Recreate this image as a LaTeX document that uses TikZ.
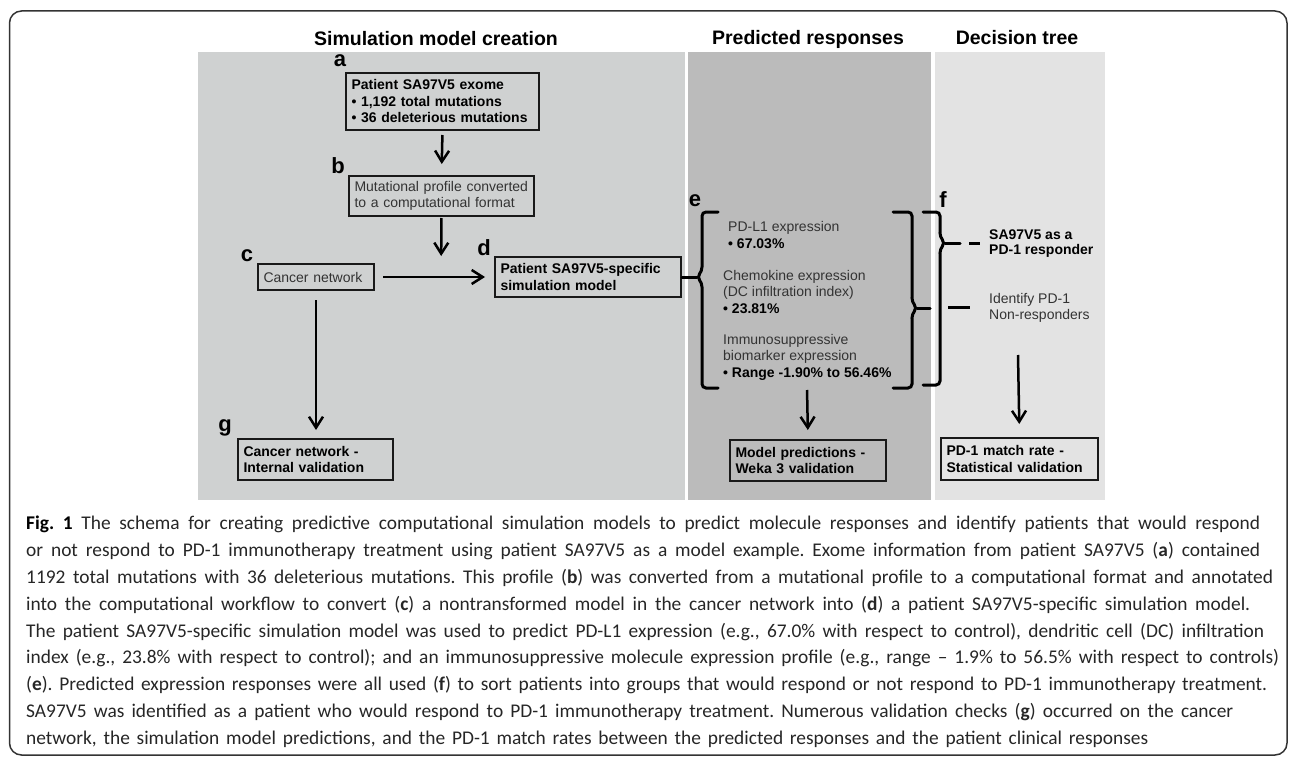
\documentclass[tikz,border=0pt]{standalone}
\usepackage{fontspec}
\usetikzlibrary{arrows.meta}
\newfontfamily\figfont{Liberation Sans}
\newfontfamily\capfont{Carlito}
\definecolor{panelA}{HTML}{CFD1D1}
\definecolor{panelB}{HTML}{BBBBBB}
\definecolor{panelC}{HTML}{E3E3E3}
\definecolor{txtgray}{HTML}{333333}
\newcommand{\capline}[2]{\hbox to #1pt{#2}}

\begin{document}
\begin{tikzpicture}[x=1pt, y=-1pt,
  box/.style={draw=black!90, line width=2pt, anchor=north west, align=left,
    inner xsep=5.5pt, inner ysep=0pt, text=txtgray,
    font=\figfont\fontsize{14}{16.5}\selectfont},
  boldbox/.style={box, text=black, font=\figfont\bfseries\fontsize{14}{16.5}\selectfont},
  plain/.style={anchor=west, align=left, inner sep=0pt, text=txtgray,
    font=\figfont\fontsize{14}{16.5}\selectfont},
  head/.style={font=\figfont\bfseries\fontsize{19.5}{22}\selectfont},
  tag/.style={font=\figfont\bfseries\fontsize{22}{24}\selectfont, inner sep=0pt},
  arr/.style={line width=2.5pt, -{Straight Barb[length=11pt,width=14pt]}},
  brace/.style={line width=3pt, rounded corners=4pt, line cap=round}]
\useasboundingbox (0,0) rectangle (1290,757);
\draw[line width=1.5pt, black!80, rounded corners=12pt] (9.5,11) rectangle (1287,755);

% the three columns
\fill[panelA] (198,52) rectangle (685,500);
\fill[panelB] (688,52) rectangle (931,500);
\fill[panelC] (935,52) rectangle (1105,500);
\node[head] (hsim) at (436,39) {Simulation model creation};
\node[head] (hpred) at (808,39) {Predicted responses};
\node[head] (htree) at (1017,38) {Decision tree};

% simulation model creation
\node[boldbox, text width=182pt, minimum height=57pt] (exome) at (345,72)
  {Patient SA97V5 exome\\ \textbullet{} 1,192 total mutations\\ \textbullet{} 36 deleterious mutations};
\node[box, text width=174pt, minimum height=40pt] (profile) at (348,175)
  {Mutational profile converted\\ to a computational format};
\node[box, text width=105pt, minimum height=26pt] (cancer) at (257,263) {Cancer network};
\node[boldbox, text width=175pt, minimum height=40pt] (model) at (494,256)
  {Patient SA97V5-specific\\ simulation model};
\node[boldbox, text width=144pt, minimum height=41pt] (cval) at (237,438)
  {Cancer network -\\ Internal validation};
\node[tag] (la) at (340,61) {a};
\node[tag] (lb) at (338,166) {b};
\node[tag] (lc) at (247,256) {c};
\node[tag] (ld) at (484,248) {d};
\node[tag] (lg) at (225,428) {g};
\coordinate (merge) at (441,276);
\draw[arr, shorten <=4pt, shorten >=11pt] (exome.south) -- (profile.north);
\draw[arr, shorten <=1pt, shorten >=20pt] (profile.south) -- (merge);
\draw[arr, shorten <=8pt, shorten >=9pt] (cancer.east) -- (model.west);
\draw[arr, shorten <=9pt, shorten >=8pt] (cancer.south) -- (cancer.south |- cval.north);

% predicted responses
\node[tag] (le) at (695,201) {e};
\node[plain] (pdl) at (728,235) {PD-L1 expression\\ \textbf{\color{black}\textbullet{} 67.03\%}};
\node[plain] (chemo) at (723,292) {Chemokine expression\\ (DC infiltration index)\\ \textbf{\color{black}\textbullet{} 23.81\%}};
\node[plain] (immuno) at (723,357) {Immunosuppressive\\ biomarker expression\\ \textbf{\color{black}\textbullet{} Range -1.90\% to 56.46\%}};
\coordinate (ecusp) at (697,277);
\draw[brace] (718,212) -- (702,212) -- (702,271) -- (ecusp) -- (702,283) -- (702,388) -- (718,388);
\draw[brace] (model.east) -- (ecusp);
\draw[brace] (893,212) -- (912,212) -- (912,302) -- (917,308) -- (912,314) -- (912,388) -- (893,388);
\draw[brace] (917,308) -- (930,308);
\node[boldbox, text width=145pt, minimum height=41pt] (weka) at (729,439)
  {Model predictions -\\ Weka 3 validation};
\coordinate (predbot) at (807,388);
\draw[arr, shorten <=2pt, shorten >=9pt] (predbot) -- (weka.north);

% decision tree
\node[tag] (lf) at (943,200) {f};
\node[plain, text=black, font=\figfont\bfseries\fontsize{14}{15.5}\selectfont] (resp) at (989,243.5) {SA97V5 as a\\ PD-1 responder};
\node[plain] (nonresp) at (989,308) {Identify PD-1\\ Non-responders};
\draw[brace] (923,212) -- (940,212) -- (940,237) -- (945,243) -- (940,249) -- (940,385) -- (923,385);
\draw[brace] (945,243) -- (960,243);
\draw[line width=3pt] (969,243) -- (980,243);
\draw[line width=3pt] (948,307) -- (970,307);
\node[boldbox, text width=146pt, minimum height=42pt] (match) at (940,437)
  {PD-1 match rate -\\ Statistical validation};
\coordinate (dectop) at (1018,355);
\draw[arr, shorten >=13pt] (dectop) -- (match.north);

% caption
\node[anchor=north west, align=left, inner sep=0pt, text=black!85,
  font=\capfont\fontsize{19.4}{26.8}\selectfont\frenchspacing] (caption) at (26,516)
{\capline{1234}{\textbf{\color{black}Fig.~1} The schema for creating predictive computational simulation models to predict molecule responses and identify patients that would respond}\\
\capline{1234}{or not respond to PD-1 immunotherapy treatment using patient SA97V5 as a model example. Exome information from patient SA97V5 (\textbf{a}) contained}\\
\capline{1247}{1192 total mutations with 36 deleterious mutations. This profile (\textbf{b}) was converted from a mutational profile to a computational format and annotated}\\
\capline{1224}{into the computational workflow to convert (\textbf{c}) a nontransformed model in the cancer network into (\textbf{d}) a patient SA97V5-specific simulation model.}\\
\capline{1238}{The patient SA97V5-specific simulation model was used to predict PD-L1 expression (e.g., 67.0\% with respect to control), dendritic cell (DC) infiltration}\\
\capline{1253}{index (e.g., 23.8\% with respect to control); and an immunosuppressive molecule expression profile (e.g., range \textendash{} 1.9\% to 56.5\% with respect to controls)}\\
\capline{1241}{(\textbf{e}). Predicted expression responses were all used (\textbf{f}) to sort patients into groups that would respond or not respond to PD-1 immunotherapy treatment.}\\
\capline{1207}{SA97V5 was identified as a patient who would respond to PD-1 immunotherapy treatment. Numerous validation checks (\textbf{g}) occurred on the cancer}\\
\capline{1122}{network, the simulation model predictions, and the PD-1 match rates between the predicted responses and the patient clinical responses}};
\end{tikzpicture}
\end{document}
